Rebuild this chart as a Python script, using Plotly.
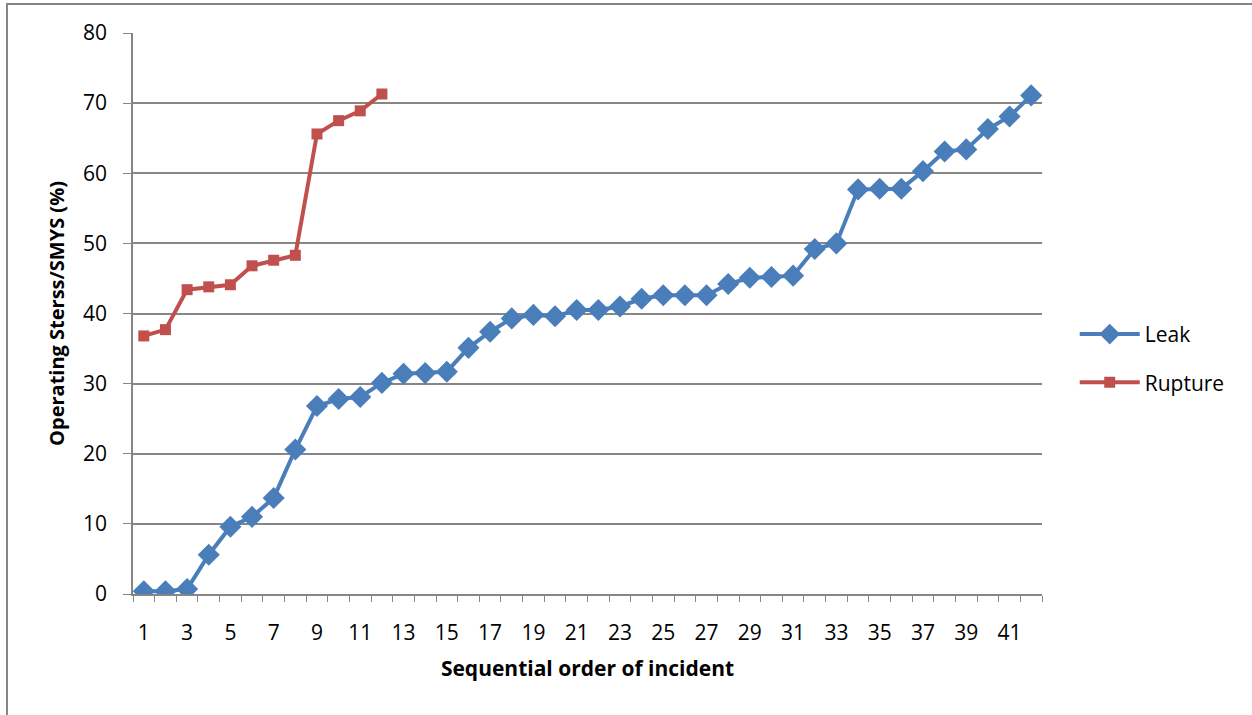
import plotly.graph_objects as go

incidents = list(range(1, 43))
leak = [0.4, 0.4, 0.7, 5.6, 9.6, 11.0, 13.7, 20.6, 26.8, 27.8,
        28.1, 30.1, 31.4, 31.5, 31.7, 35.1, 37.4, 39.3, 39.8, 39.6,
        40.5, 40.5, 41.0, 42.1, 42.6, 42.6, 42.6, 44.2, 45.1, 45.2,
        45.4, 49.2, 50.0, 57.7, 57.8, 57.8, 60.3, 63.1, 63.4, 66.3,
        68.1, 71.1]
rupture_incidents = list(range(1, 13))
rupture = [36.8, 37.7, 43.4, 43.8, 44.1, 46.8, 47.6, 48.3, 65.6, 67.5, 68.9, 71.3]

x_ticks = list(range(1, 43, 2))
y_ticks = list(range(0, 81, 10))

grey = "#868686"
font_family = "Open Sans, Liberation Sans, sans-serif"

fig = go.Figure()
fig.add_trace(go.Scatter(
    x=incidents, y=leak, name="Leak", mode="lines+markers",
    line=dict(color="#4A7EBB", width=4),
    marker=dict(symbol="diamond", size=17, color="#4A7EBB"),
    legendgroup="a",
))
fig.add_trace(go.Scatter(
    x=rupture_incidents, y=rupture, name="Rupture", mode="lines+markers",
    line=dict(color="#C0504D", width=4),
    marker=dict(symbol="square", size=11, color="#C0504D"),
    legendgroup="b",
))

boundaries = [i - 0.5 for i in incidents] + [incidents[-1] + 0.5]

fig.update_layout(
    width=1252, height=715,
    margin=dict(l=133, r=210, t=33, b=121),
    paper_bgcolor="white", plot_bgcolor="white",
    font=dict(family=font_family, size=21, color="black"),
    showlegend=True,
    legend=dict(x=1.036, y=0.42, xanchor="left", yanchor="middle",
                font=dict(size=21), tracegroupgap=18,
                traceorder="grouped", itemwidth=60),
    xaxis=dict(
        range=[0.5, 42.5], tickmode="array", tickvals=x_ticks,
        ticktext=[str(v) for v in x_ticks], ticks="",
        showgrid=False, showline=True, linecolor=grey, linewidth=1.5,
        zeroline=False, ticklabelstandoff=19,
        tickfont=dict(size=21),
        minor=dict(tickmode="array", tickvals=boundaries, ticks="outside",
                   ticklen=6, tickcolor=grey, showgrid=False),
        title=dict(text="<b>Sequential order of incident</b>",
                   font=dict(size=21), standoff=16),
    ),
    yaxis=dict(
        range=[0, 80], tickmode="array", tickvals=y_ticks,
        showgrid=True, gridcolor=grey, gridwidth=1.5,
        showline=True, linecolor=grey, linewidth=1.5,
        ticks="outside", ticklen=8, tickcolor=grey,
        zeroline=False, ticklabelstandoff=12,
        tickfont=dict(size=21),
        title=dict(text="<b>Operating Sterss/SMYS (%)</b>",
                   font=dict(size=20), standoff=13),
    ),
    shapes=[dict(type="rect", xref="paper", yref="paper",
                 x0=-0.1386, x1=1.6, y0=-0.6, y1=1.0517,
                 line=dict(color=grey, width=2), layer="below")],
)

fig.write_html("out.html",
               config={"displayModeBar": False},
               post_script="document.body.style.margin='0';")
